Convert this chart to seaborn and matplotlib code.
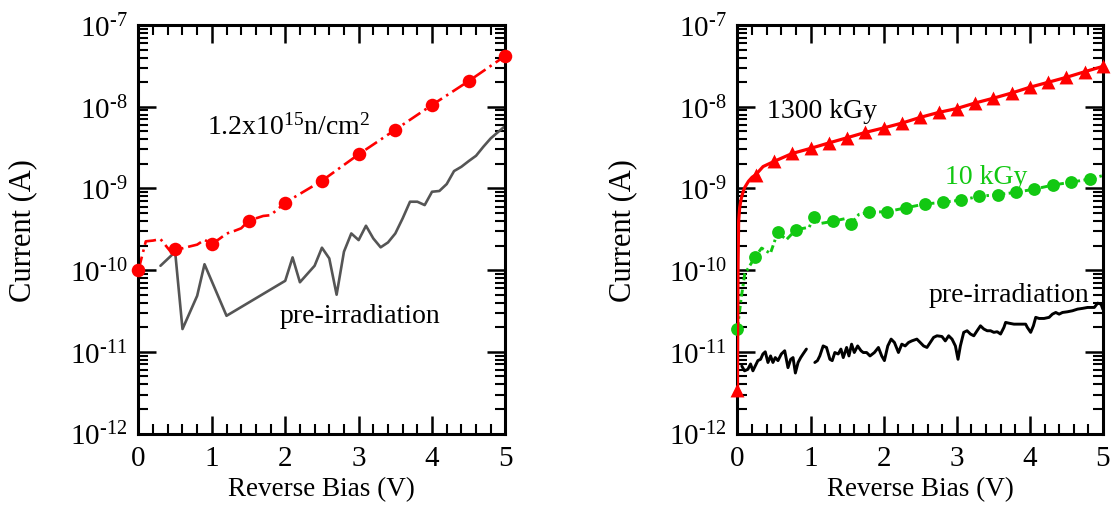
import numpy as np
import pandas as pd
import matplotlib
matplotlib.use("Agg")
import matplotlib.pyplot as plt
from matplotlib.ticker import LogLocator, MultipleLocator, FuncFormatter, NullFormatter
import seaborn as sns

# ---------------- Left panel: neutron fluence 1.2x10^15 n/cm^2 ----------------
neutron_marker_v = [0.0, 0.5, 1.0, 1.5, 2.0, 2.5, 3.0, 3.5, 4.0, 4.5, 5.0]
neutron_marker_i = [1.0e-10, 1.8e-10, 2.09e-10, 4.0e-10, 6.7e-10, 1.24e-9,
                    2.61e-9, 5.23e-9, 1.05e-8, 2.06e-8, 4.2e-8]
neutron_extra_v = [0.1, 0.2, 0.3, 0.43, 0.6, 0.7, 0.8, 0.9, 1.1, 1.2, 1.3,
                   1.4, 1.6, 1.7, 1.8, 1.9]
neutron_extra_i = [2.25e-10, 2.3e-10, 2.4e-10, 1.72e-10, 1.85e-10, 1.95e-10,
                   2.05e-10, 2.35e-10, 2.4e-10, 2.8e-10, 3.0e-10, 3.25e-10,
                   4.3e-10, 4.6e-10, 4.7e-10, 5.6e-10]

pre_left_v = [0.3, 0.5, 0.6, 0.8, 0.9, 1.2, 2.0, 2.1, 2.2, 2.4, 2.5, 2.6, 2.7,
              2.8, 2.9, 3.0, 3.1, 3.2, 3.3, 3.4, 3.5, 3.6, 3.7, 3.8, 3.9, 4.0,
              4.1, 4.2, 4.3, 4.4, 4.5, 4.6, 4.7, 4.8, 5.0]
pre_left_i = [1.13e-10, 1.67e-10, 1.9e-11, 4.85e-11, 1.18e-10, 2.76e-11,
              7.4e-11, 1.43e-10, 7.1e-11, 1.13e-10, 1.88e-10, 1.39e-10,
              5.0e-11, 1.68e-10, 2.81e-10, 2.33e-10, 3.49e-10, 2.44e-10,
              1.9e-10, 2.18e-10, 2.81e-10, 4.3e-10, 6.87e-10, 6.87e-10,
              6.25e-10, 9.1e-10, 9.3e-10, 1.13e-9, 1.63e-9, 1.84e-9,
              2.16e-9, 2.51e-9, 3.24e-9, 4.1e-9, 5.85e-9]

# ---------------- Right panel: gamma dose ----------------
dose1300_marker_v = [0.0, 0.25, 0.5, 0.75, 1.0, 1.25, 1.5, 1.75, 2.0, 2.25,
                     2.5, 2.75, 3.0, 3.25, 3.5, 3.75, 4.0, 4.25, 4.5, 4.75, 5.0]
dose1300_marker_i = [3.4e-12, 1.47e-9, 2.14e-9, 2.68e-9, 3.09e-9, 3.6e-9,
                     4.17e-9, 4.85e-9, 5.5e-9, 6.3e-9, 7.4e-9, 8.5e-9, 9.5e-9,
                     1.11e-8, 1.27e-8, 1.47e-8, 1.73e-8, 1.99e-8, 2.29e-8,
                     2.68e-8, 3.12e-8]
dose1300_extra_v = [0.004, 0.008, 0.016, 0.03, 0.05, 0.075, 0.1, 0.15, 0.2, 0.35]
dose1300_extra_i = [3.0e-11, 1.2e-10, 4.0e-10, 5.8e-10, 7.4e-10, 9.0e-10,
                    1.03e-9, 1.22e-9, 1.37e-9, 1.85e-9]

dose10_marker_v = [0.0, 0.24, 0.55, 0.80, 1.05, 1.30, 1.55, 1.80, 2.05, 2.31,
                   2.56, 2.81, 3.06, 3.31, 3.56, 3.81, 4.06, 4.32, 4.56, 4.82]
dose10_marker_i = [1.9e-11, 1.44e-10, 2.9e-10, 3.13e-10, 4.5e-10, 3.95e-10,
                   3.66e-10, 5.1e-10, 5.2e-10, 5.8e-10, 6.44e-10, 6.76e-10,
                   7.2e-10, 8.0e-10, 8.4e-10, 8.95e-10, 9.8e-10, 1.10e-9,
                   1.19e-9, 1.30e-9]
dose10_extra_v = [0.05, 0.1, 0.33, 0.45, 0.67, 0.98, 1.12, 1.49, 1.66, 4.99]
dose10_extra_i = [4.5e-11, 9.0e-11, 1.86e-10, 1.6e-10, 2.36e-10, 3.34e-10,
                  3.7e-10, 4.3e-10, 4.8e-10, 1.43e-9]

pre_right_v1 = [0.059, 0.096, 0.142, 0.179, 0.211, 0.243, 0.279, 0.316, 0.348,
                0.380, 0.417, 0.453, 0.485, 0.517, 0.554, 0.600, 0.646, 0.691,
                0.728, 0.760, 0.792, 0.829, 0.865, 0.897, 0.943]
pre_right_i1 = [6.7e-12, 5.85e-12, 6.1e-12, 7.1e-12, 5.85e-12, 6.7e-12, 7.8e-12,
                8.1e-12, 9.4e-12, 1.0e-11, 7.4e-12, 8.9e-12, 7.4e-12, 8.5e-12,
                7.8e-12, 9.4e-12, 1.03e-11, 6.4e-12, 8.1e-12, 8.5e-12, 5.5e-12,
                7.4e-12, 8.5e-12, 9.4e-12, 1.08e-11]
pre_right_v2 = [1.058, 1.094, 1.126, 1.172, 1.218, 1.264, 1.296, 1.332, 1.378,
                1.415, 1.447, 1.493, 1.525, 1.561, 1.598, 1.644, 1.690, 1.721,
                1.767, 1.813, 1.873, 1.928, 1.973, 2.010, 2.056, 2.102, 2.147,
                2.202, 2.248, 2.294, 2.340, 2.385, 2.454, 2.500, 2.546, 2.592,
                2.637, 2.683, 2.729, 2.797, 2.843, 2.889, 2.935, 2.981, 3.017,
                3.049, 3.095, 3.141, 3.187, 3.233, 3.278, 3.324, 3.370, 3.416,
                3.462, 3.507, 3.553, 3.599, 3.645, 3.668, 3.714, 3.782, 3.874,
                3.942, 3.965, 4.011, 4.048, 4.080, 4.126, 4.194, 4.263, 4.308,
                4.354, 4.400, 4.446, 4.514, 4.583, 4.652, 4.720, 4.789, 4.835,
                4.881, 4.927, 4.973, 5.0]
pre_right_i2 = [7.4e-12, 7.8e-12, 8.9e-12, 1.18e-11, 1.13e-11, 8.1e-12, 7.8e-12,
                9.8e-12, 9.4e-12, 1.08e-11, 8.5e-12, 1.13e-11, 8.9e-12, 1.24e-11,
                9.8e-12, 1.18e-11, 1.03e-11, 9.8e-12, 9.8e-12, 8.9e-12, 9.8e-12,
                1.13e-11, 8.9e-12, 7.8e-12, 1.18e-11, 1.43e-11, 1.3e-11, 9.8e-12,
                1.24e-11, 1.18e-11, 1.3e-11, 1.36e-11, 1.43e-11, 1.3e-11,
                1.18e-11, 1.13e-11, 1.30e-11, 1.50e-11, 1.57e-11, 1.54e-11,
                1.36e-11, 1.57e-11, 1.43e-11, 1.18e-11, 8.1e-12, 1.18e-11,
                1.73e-11, 1.81e-11, 1.65e-11, 1.57e-11, 1.81e-11, 2.08e-11,
                1.90e-11, 1.81e-11, 1.81e-11, 1.73e-11, 1.76e-11, 1.65e-11,
                1.99e-11, 2.29e-11, 2.24e-11, 2.18e-11, 2.18e-11, 2.18e-11,
                1.99e-11, 1.73e-11, 2.08e-11, 2.64e-11, 2.56e-11, 2.56e-11,
                2.64e-11, 2.89e-11, 3.03e-11, 2.89e-11, 3.03e-11, 3.09e-11,
                3.18e-11, 3.33e-11, 3.40e-11, 3.49e-11, 3.49e-11, 3.49e-11,
                3.94e-11, 3.83e-11, 3.3e-11]

RED = "#ff0000"
GREEN = "#12c812"
GRAY = "#555555"


def curve_frame(marker_v, marker_i, extra_v, extra_i):
    df = pd.DataFrame({"V": list(marker_v) + list(extra_v),
                       "I": list(marker_i) + list(extra_i)})
    return df.sort_values("V").reset_index(drop=True)


sns.set_theme(style="ticks")
plt.rcParams["font.family"] = ["Liberation Serif", "DejaVu Serif"]
plt.rcParams["mathtext.fontset"] = "custom"
plt.rcParams["mathtext.rm"] = "Liberation Serif"
plt.rcParams["mathtext.it"] = "Liberation Serif:italic"
plt.rcParams["mathtext.bf"] = "Liberation Serif:bold"
plt.rcParams["lines.scale_dashes"] = False
plt.rcParams["text.color"] = "black"
plt.rcParams["axes.labelcolor"] = "black"
plt.rcParams["xtick.color"] = "black"
plt.rcParams["ytick.color"] = "black"

fig = plt.figure(figsize=(11.13, 5.06), dpi=100)
ax_l = fig.add_axes([0.1244, 0.1413, 0.3297, 0.8073])
ax_r = fig.add_axes([0.6626, 0.1413, 0.3284, 0.8073])

HYPHEN = "\u2010"


def sci_label(y, pos):
    exp = int(round(np.log10(y)))
    return "$\\mathdefault{10^{" + HYPHEN + str(-exp) + "}}$"


for ax in (ax_l, ax_r):
    ax.set_yscale("log")
    ax.set_xlim(0, 5)
    ax.set_ylim(1e-12, 1e-7)
    ax.xaxis.set_major_locator(MultipleLocator(1))
    ax.xaxis.set_minor_locator(MultipleLocator(0.2))
    ax.yaxis.set_major_locator(LogLocator(base=10, numticks=10))
    ax.yaxis.set_minor_locator(LogLocator(base=10, subs=np.arange(2, 10), numticks=100))
    ax.yaxis.set_major_formatter(FuncFormatter(sci_label))
    ax.yaxis.set_minor_formatter(NullFormatter())
    ax.tick_params(which="both", direction="in", top=True, right=True,
                   colors="black")
    ax.tick_params(which="major", length=13, width=1.8, labelsize=21)
    ax.tick_params(which="minor", length=7, width=1.5)
    ax.tick_params(axis="x", which="major", pad=8)
    ax.tick_params(axis="y", which="major", pad=8)
    for sp in ax.spines.values():
        sp.set_linewidth(2.2)
        sp.set_color("black")
    ax.set_facecolor("white")

# ---- left panel ----
neutron_line = curve_frame(neutron_marker_v, neutron_marker_i,
                           neutron_extra_v, neutron_extra_i)
neutron_pts = pd.DataFrame({"V": neutron_marker_v, "I": neutron_marker_i})
pre_left = pd.DataFrame({"V": pre_left_v, "I": pre_left_i})

sns.lineplot(data=pre_left, x="V", y="I", ax=ax_l, color=GRAY, lw=1.9,
             estimator=None)
sns.lineplot(data=neutron_line, x="V", y="I", ax=ax_l, color=RED, lw=1.9,
             estimator=None, linestyle=(0, (10, 3.5, 1.8, 3.5)))
sns.scatterplot(data=neutron_pts, x="V", y="I", ax=ax_l, color=RED, s=95,
                marker="o", linewidth=0, clip_on=False, zorder=4)

ax_l.text(0.93, 4.72e-9, r"1.2x10$^{15}$n/cm$^{2}$", fontsize=20,
          ha="left", va="baseline")
ax_l.text(1.93, 2.34e-11, "pre-irradiation", fontsize=20,
          ha="left", va="baseline")

# ---- right panel ----
dose1300_line = curve_frame(dose1300_marker_v, dose1300_marker_i,
                            dose1300_extra_v, dose1300_extra_i)
dose1300_pts = pd.DataFrame({"V": dose1300_marker_v, "I": dose1300_marker_i})
dose10_line = curve_frame(dose10_marker_v, dose10_marker_i,
                          dose10_extra_v, dose10_extra_i)
dose10_pts = pd.DataFrame({"V": dose10_marker_v, "I": dose10_marker_i})
pre_right = pd.DataFrame({
    "V": pre_right_v1 + pre_right_v2,
    "I": pre_right_i1 + pre_right_i2,
    "seg": [1] * len(pre_right_v1) + [2] * len(pre_right_v2),
})

sns.lineplot(data=pre_right, x="V", y="I", units="seg", ax=ax_r,
             color="black", lw=2.1, estimator=None)
sns.lineplot(data=dose10_line, x="V", y="I", ax=ax_r, color=GREEN, lw=2.1,
             estimator=None, linestyle=(0, (5, 2.5, 1.8, 2.5)))
sns.scatterplot(data=dose10_pts, x="V", y="I", ax=ax_r, color=GREEN, s=85,
                marker="o", linewidth=0, clip_on=False, zorder=4)
sns.lineplot(data=dose1300_line, x="V", y="I", ax=ax_r, color=RED, lw=2.3,
             estimator=None, zorder=5)
sns.scatterplot(data=dose1300_pts, x="V", y="I", ax=ax_r, color=RED, s=100,
                marker="^", linewidth=0, clip_on=False, zorder=6)

ax_r.text(0.41, 7.4e-9, "1300 kGy", fontsize=20, ha="left", va="baseline")
ax_r.text(2.84, 1.15e-9, "10 kGy", fontsize=20, ha="left", va="baseline",
          color=GREEN)
ax_r.text(2.61, 4.2e-11, "pre-irradiation", fontsize=20, ha="left",
          va="baseline")

for ax in (ax_l, ax_r):
    ax.set_xlabel("Reverse Bias (V)", fontsize=19.5)
    ax.set_ylabel("Current (A)", fontsize=22)
    ax.xaxis.set_label_coords(0.5, -0.104)
    ax.yaxis.set_label_coords(-0.275, 0.5)

fig.savefig("out.png", dpi=100, facecolor="white")
